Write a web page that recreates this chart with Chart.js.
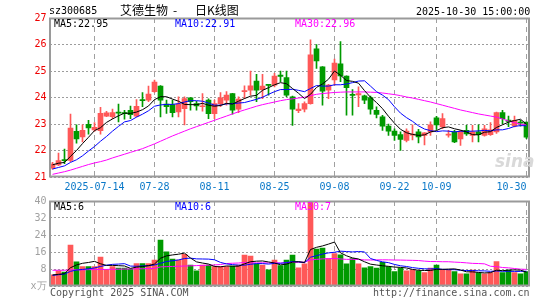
<!DOCTYPE html>
<html><head><meta charset="utf-8">
<script src="https://cdn.jsdelivr.net/npm/chart.js@4/dist/chart.umd.min.js"></script>
<style>
body{margin:0;background:#fff;width:545px;height:300px;overflow:hidden;position:relative;font-family:'DejaVu Sans Mono',monospace;}
canvas{position:absolute;left:0;}
#c1{top:0;}
#c2{top:190px;}
.t{position:absolute;font-size:10px;line-height:10px;white-space:nowrap;}
.cn{position:absolute;font-family:'Noto Sans CJK SC',sans-serif;font-size:12px;line-height:12px;white-space:nowrap;color:#000;}
</style></head><body>
<canvas id="c1" width="545" height="200"></canvas>
<canvas id="c2" width="545" height="110"></canvas>
<div class="t" style="left:49px;top:6px;color:#000">sz300685</div>
<div class="cn" style="left:120px;top:4px">艾德生物</div>
<div class="cn" style="left:173px;top:4px">-</div>
<div class="cn" style="left:195px;top:4px">日K线图</div>
<div class="t" style="left:416px;top:7px;color:#000">2025-10-30 15:00:00</div>
<div class="t" style="left:54px;top:19px;color:#000">MA5:22.95</div>
<div class="t" style="left:175px;top:19px;color:#0000ff">MA10:22.91</div>
<div class="t" style="left:295px;top:19px;color:#ff00ff">MA30:22.96</div>
<div class="t" style="left:54px;top:202px;color:#000">MA5:6</div>
<div class="t" style="left:175px;top:202px;color:#0000ff">MA10:6</div>
<div class="t" style="left:295px;top:202px;color:#ff00ff">MA30:7</div>
<div class="t" style="left:50px;top:288px;color:#555">Copyright 2025 SINA.COM</div>
<div class="t" style="left:373px;top:288px;color:#555">http://finance.sina.com.cn</div>
<div style="position:absolute;left:495px;top:151px;font-family:'DejaVu Sans',sans-serif;font-weight:bold;font-style:italic;font-size:17px;color:#d9d9d9;">sina</div>
<script>
const dates = ['2025-07-03','2025-07-04','2025-07-07','2025-07-08','2025-07-09','2025-07-10','2025-07-11','2025-07-14','2025-07-15','2025-07-16','2025-07-17','2025-07-18','2025-07-21','2025-07-22','2025-07-23','2025-07-24','2025-07-25','2025-07-28','2025-07-29','2025-07-30','2025-07-31',
'2025-08-01','2025-08-04','2025-08-05','2025-08-06','2025-08-07','2025-08-08','2025-08-11','2025-08-12','2025-08-13','2025-08-14','2025-08-15','2025-08-18','2025-08-19','2025-08-20','2025-08-21','2025-08-22','2025-08-25','2025-08-26','2025-08-27','2025-08-28','2025-08-29',
'2025-09-01','2025-09-02','2025-09-03','2025-09-04','2025-09-05','2025-09-08','2025-09-09','2025-09-10','2025-09-11','2025-09-12','2025-09-15','2025-09-16','2025-09-17','2025-09-18','2025-09-19','2025-09-22','2025-09-23','2025-09-24','2025-09-25','2025-09-26','2025-09-29','2025-09-30',
'2025-10-09','2025-10-10','2025-10-13','2025-10-14','2025-10-15','2025-10-16','2025-10-17','2025-10-20','2025-10-21','2025-10-22','2025-10-23','2025-10-24','2025-10-27','2025-10-28','2025-10-29','2025-10-30'];

const tickDates = ['2025-07-14','2025-07-28','2025-08-11','2025-08-25','2025-09-08','2025-09-22','2025-10-09','2025-10-30'];
const tickLabels = ['2025-07-14','07-28','08-11','08-25','09-08','09-22','10-09','10-30'];

const open = [21.33,21.46,21.66,21.63,22.72,22.51,22.99,22.78,22.75,23.30,
 23.28,23.45,23.42,23.52,23.30,23.92,23.90,24.22,24.43,23.75,
 23.73,23.46,23.58,23.99,23.77,23.65,23.90,23.39,23.77,23.90,
 24.15,23.56,24.22,24.28,24.62,24.30,24.49,24.47,24.85,24.75,
 24.03,23.50,23.56,23.77,25.84,25.16,24.28,24.66,25.27,24.81,
 24.12,24.10,24.06,24.00,23.52,23.27,22.92,22.73,22.60,22.38,
 22.58,22.70,22.57,22.70,23.23,22.89,22.58,22.70,22.44,22.76,
 22.57,22.70,22.57,22.60,22.70,23.43,23.15,22.93,23.07,23.07];
const high = [21.55,21.90,22.05,23.37,22.97,22.97,23.14,23.05,23.63,23.48,
 23.56,23.75,23.52,23.68,23.92,24.19,24.43,24.66,24.45,23.90,
 23.90,24.03,24.03,24.00,23.86,24.15,23.95,23.90,24.19,24.22,
 24.16,24.03,24.44,25.00,24.87,24.87,24.50,24.91,25.00,25.00,
 24.05,23.77,23.84,26.18,26.00,25.17,24.50,25.45,26.11,24.82,
 24.30,24.40,24.09,24.05,23.65,23.33,23.00,22.82,22.70,22.82,
 22.97,22.80,22.68,23.08,23.29,23.39,22.76,22.76,22.76,22.95,
 22.95,22.97,22.95,23.05,23.45,23.52,23.30,23.30,23.14,23.07];
const low = [21.30,21.43,21.50,21.58,22.28,22.32,22.62,22.72,22.62,23.28,
 23.20,23.08,23.18,23.20,23.27,23.65,23.84,24.19,23.27,23.40,
 23.27,23.27,22.97,23.52,23.52,23.48,23.20,23.20,23.65,23.71,
 23.37,23.43,23.96,24.09,23.84,23.96,24.09,24.40,24.60,24.03,
 22.95,23.43,23.46,23.75,25.10,23.71,23.96,24.47,24.60,23.33,
 23.33,23.65,23.77,23.37,23.23,22.76,22.57,22.38,22.00,22.32,
 22.40,22.29,22.21,22.57,22.80,22.82,22.50,22.30,22.19,22.57,
 22.32,22.32,22.54,22.57,22.64,23.01,22.90,22.89,22.92,22.45];
const close = [21.49,21.62,21.62,22.85,22.44,22.76,22.85,22.87,23.40,23.42,
 23.43,23.41,23.39,23.35,23.67,23.88,24.13,24.58,23.90,23.65,
 23.43,23.75,23.96,23.84,23.68,23.68,23.39,23.77,23.99,24.09,
 23.52,23.94,24.24,24.44,24.28,24.43,24.46,24.81,24.80,24.09,
 23.56,23.56,23.77,25.61,25.38,24.24,24.47,25.30,24.81,24.37,
 24.08,24.15,23.90,23.56,23.36,22.92,22.73,22.57,22.42,22.73,
 22.62,22.51,22.67,22.97,22.97,23.20,22.62,22.32,22.72,22.63,
 22.70,22.60,22.82,22.78,23.43,23.20,23.10,23.14,23.03,22.50];
const ma5 = [21.46,21.52,21.55,21.78,22.00,22.26,22.50,22.75,22.86,23.06,
 23.19,23.31,23.41,23.40,23.45,23.54,23.68,23.92,24.03,24.03,
 23.94,23.86,23.74,23.73,23.73,23.78,23.71,23.67,23.70,23.78,
 23.75,23.86,23.96,24.05,24.08,24.27,24.37,24.48,24.56,24.52,
 24.34,24.16,23.96,24.12,24.38,24.51,24.69,25.00,24.84,24.64,
 24.61,24.54,24.26,24.01,23.81,23.58,23.29,23.03,22.80,22.67,
 22.61,22.57,22.59,22.70,22.75,22.86,22.89,22.82,22.77,22.70,
 22.60,22.59,22.69,22.71,22.87,22.97,23.07,23.13,23.18,22.99];
const ma10 = [21.30,21.36,21.42,21.55,21.65,21.80,21.98,22.15,22.35,22.53,
 22.73,22.91,23.08,23.13,23.26,23.37,23.50,23.67,23.72,23.74,
 23.74,23.77,23.83,23.88,23.88,23.86,23.79,23.71,23.71,23.76,
 23.77,23.79,23.81,23.87,23.93,24.01,24.12,24.22,24.30,24.30,
 24.31,24.27,24.22,24.34,24.45,24.43,24.43,24.48,24.48,24.51,
 24.56,24.62,24.63,24.43,24.22,24.09,23.92,23.65,23.41,23.24,
 23.10,22.93,22.81,22.75,22.71,22.74,22.73,22.70,22.73,22.72,
 22.73,22.74,22.76,22.74,22.78,22.78,22.83,22.91,22.94,22.93];
const ma30 = [21.10,21.15,21.20,21.26,21.33,21.40,21.47,21.53,21.58,21.64,
 21.72,21.79,21.86,21.93,22.00,22.07,22.16,22.25,22.35,22.45,
 22.55,22.64,22.73,22.82,22.90,22.98,23.06,23.14,23.22,23.30,
 23.38,23.46,23.53,23.60,23.67,23.73,23.78,23.83,23.88,23.92,
 23.95,23.98,24.01,24.07,24.12,24.15,24.17,24.19,24.20,24.21,
 24.21,24.21,24.21,24.20,24.19,24.17,24.14,24.11,24.07,24.02,
 23.98,23.93,23.88,23.83,23.77,23.71,23.65,23.59,23.53,23.48,
 23.43,23.38,23.34,23.30,23.26,23.19,23.11,23.05,23.00,22.96];

const volume = [5.2,7.1,6.5,19.3,11.4,9.1,9.1,9.1,13.6,7.6,
 9.1,8.4,8.4,8.0,10.5,10.5,10.5,12.2,21.6,16.1,
 12.7,12.2,14.9,9.9,7.1,9.9,9.9,9.1,9.1,9.1,
 9.4,9.9,14.6,14.1,10.4,9.9,7.6,12.2,9.6,12.2,
 14.6,8.6,10.4,40,17.4,17.9,12.9,15.2,14.7,10.4,
 12.9,10.4,8.6,9.1,8.4,11.1,9.1,6.8,8.4,7.1,
 7.6,7.1,6.3,8.4,9.9,7.6,7.6,6.8,5.7,5.7,
 7.5,6.2,5.7,6.3,11.5,6.3,7.5,6.3,5.7,6.8];
const vma5 = [5.2,5.5,5.8,8.6,9.90,10.68,11.08,11.60,10.46,9.70,
 9.70,9.56,9.42,8.30,8.88,9.16,9.58,10.34,13.06,14.18,
 14.62,14.96,15.50,13.16,11.36,10.80,10.34,9.18,9.02,9.42,
 9.32,9.32,10.42,11.42,11.68,11.78,11.32,10.84,9.94,10.30,
 11.24,11.44,11.08,17.16,18.20,18.86,19.72,20.68,15.62,14.22,
 13.22,12.72,11.40,10.28,9.88,9.52,9.26,8.90,8.76,8.50,
 7.80,7.40,7.30,7.30,7.86,7.86,7.96,8.06,7.52,6.68,
 6.66,6.38,6.16,6.28,7.44,7.20,7.46,7.58,7.46,6.52];
const vma10 = [5.0,5.3,5.6,6.9,7.5,7.8,8.1,8.5,9.2,9.80,
 10.19,10.32,10.51,9.38,9.29,9.43,9.57,9.88,10.68,11.53,
 11.89,12.27,12.92,13.11,12.77,12.71,12.65,12.34,11.09,10.39,
 10.06,9.83,9.80,10.22,10.55,10.55,10.32,10.63,10.68,10.99,
 11.51,11.38,10.96,13.55,14.25,15.05,15.58,15.88,16.39,16.21,
 16.04,16.22,16.04,12.95,12.05,11.37,10.99,10.15,9.52,9.19,
 8.66,8.33,8.10,8.03,8.18,7.83,7.68,7.68,7.41,7.27,
 7.26,7.17,7.11,6.90,7.06,6.93,6.92,6.87,6.87,6.98];
const vma30 = [7.4,7.4,7.4,7.6,7.6,7.6,7.7,7.7,7.8,7.8,
 7.9,7.9,8.0,8.0,8.1,8.1,8.2,8.3,9.0,9.1,
 9.2,9.3,9.4,9.5,9.6,9.7,9.8,9.9,10.1,10.57,
 10.71,10.81,11.08,10.90,10.87,10.90,10.85,10.95,10.82,10.97,
 11.15,11.16,11.23,12.29,12.52,12.77,12.85,12.95,12.72,12.53,
 12.54,12.48,12.27,12.24,12.28,12.32,12.30,12.22,12.20,12.13,
 12.07,11.98,11.70,11.51,11.49,11.42,11.42,11.24,11.11,10.89,
 10.65,10.57,10.42,9.29,9.10,8.71,8.53,8.23,7.93,7.81];

const RED = '#ff5858', GREEN = '#009a00';
const colors = close.map((c, i) => c >= open[i] ? RED : GREEN);
const isTick = i => tickDates.indexOf(dates[i]) >= 0;
const FONT = {family: "'DejaVu Sans Mono', monospace", size: 10};

const frame = {
  id: 'frame',
  afterDraw(ch) {
    const a = ch.chartArea, c = ch.ctx;
    c.save();
    c.strokeStyle = '#9a9a9a';
    c.lineWidth = 2;
    c.strokeRect(a.left + 0.5, a.top + 0.5, a.right - a.left - 1, a.bottom - a.top - 1);
    c.restore();
  }
};

function lineDs(data, color) {
  return {type: 'line', data, borderColor: color, borderWidth: 1, pointRadius: 0, tension: 0, order: 0, fill: false};
}
function xScale(showLabels) {
  return {
    offset: true,
    grid: {offset: false, drawTicks: false, color: ctx => isTick(ctx.index) ? '#a0a0a0' : 'rgba(0,0,0,0)', lineWidth: 1},
    border: {display: false, dash: [5, 4]},
    ticks: {
      display: showLabels, autoSkip: false, maxRotation: 0, minRotation: 0, align: 'inner', padding: 4,
      color: '#0a78c8', font: FONT,
      callback: (v, i) => { const k = tickDates.indexOf(dates[i]); return k >= 0 ? tickLabels[k] : ''; }
    },
    afterFit: s => { s.height = showLabels ? 23 : 0; }
  };
}

new Chart(document.getElementById('c1'), {
  type: 'bar',
  data: {
    labels: dates,
    datasets: [
      lineDs(ma5, '#000000'),
      lineDs(ma10, '#0000ff'),
      lineDs(ma30, '#ff00ff'),
      {data: dates.map((d, i) => [low[i], high[i]]), backgroundColor: colors, barThickness: 1, grouped: false, order: 2},
      {data: dates.map((d, i) => [open[i], close[i]]), backgroundColor: colors, barThickness: 5, grouped: false, minBarLength: 1, order: 1}
    ]
  },
  options: {
    responsive: false, animation: false, events: [],
    plugins: {legend: {display: false}, tooltip: {enabled: false}},
    layout: {padding: {top: 18, right: 15.5, left: 0.5, bottom: 0}},
    scales: {
      x: xScale(true),
      y: {
        min: 21, max: 27,
        ticks: {stepSize: 1, color: '#ee0000', padding: 3, font: FONT},
        grid: {color: '#9c9c9c', drawTicks: false},
        border: {display: false, dash: [2, 2]},
        afterFit: s => { s.width = 49; }
      }
    }
  },
  plugins: [frame]
});

new Chart(document.getElementById('c2'), {
  type: 'bar',
  data: {
    labels: dates,
    datasets: [
      lineDs(vma5, '#000000'),
      lineDs(vma10, '#0000ff'),
      lineDs(vma30, '#ff00ff'),
      {data: volume, backgroundColor: colors, barThickness: 5, order: 1}
    ]
  },
  options: {
    responsive: false, animation: false, events: [],
    plugins: {legend: {display: false}, tooltip: {enabled: false}},
    layout: {padding: {top: 11, right: 15.5, left: 0.5, bottom: 14}},
    scales: {
      x: xScale(false),
      y: {
        min: 0, max: 40,
        ticks: {stepSize: 8, color: '#a0a0a0', padding: 3, font: FONT, callback: v => v === 0 ? 'x万' : v},
        grid: {color: '#9c9c9c', drawTicks: false},
        border: {display: false, dash: [2, 2]},
        afterFit: s => { s.width = 49; }
      }
    }
  },
  plugins: [frame]
});
</script>
</body></html>
